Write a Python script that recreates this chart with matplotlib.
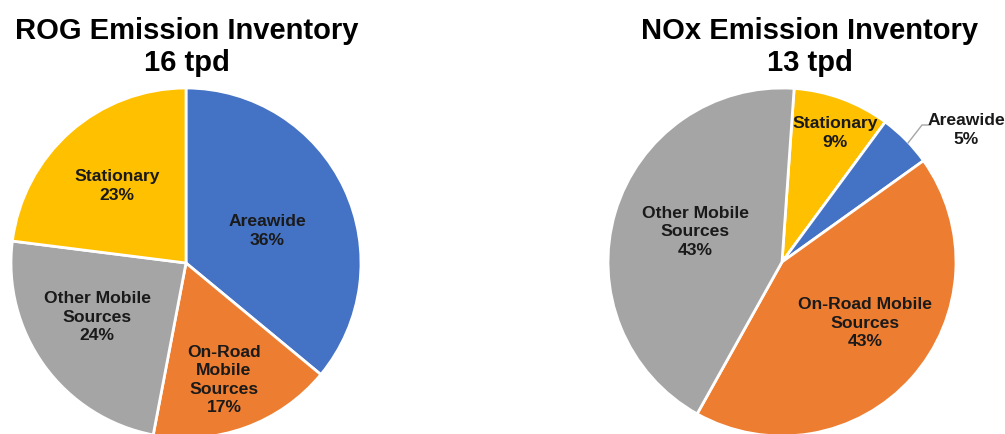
import matplotlib
matplotlib.use("Agg")
import matplotlib.pyplot as plt

plt.rcParams['font.family'] = ['Liberation Sans', 'DejaVu Sans']

# ---- data ----
rog_labels = ["Areawide", "On-Road\nMobile\nSources", "Other Mobile\nSources", "Stationary"]
rog_values = [36, 17, 24, 23]
rog_colors = ["#4472C4", "#ED7D31", "#A5A5A5", "#FFC000"]
rog_title = "ROG Emission Inventory\n16 tpd"

nox_labels = ["Stationary", "Areawide", "On-Road Mobile\nSources", "Other Mobile\nSources"]
nox_values = [9, 5, 43, 43]
nox_colors = ["#FFC000", "#4472C4", "#ED7D31", "#A5A5A5"]
nox_title = "NOx Emission Inventory\n13 tpd"

W, H = 1005, 434
fig = plt.figure(figsize=(W / 100, H / 100), dpi=100)
ax = fig.add_axes([0, 0, 1, 1])

def Y(y):
    return H - y

# left pie
ax.pie(rog_values, colors=rog_colors, startangle=90, counterclock=False,
       center=(186, Y(263)), radius=175,
       wedgeprops=dict(edgecolor="white", linewidth=2))
# right pie
ax.pie(nox_values, colors=nox_colors, startangle=86, counterclock=False,
       center=(782, Y(262)), radius=174,
       wedgeprops=dict(edgecolor="white", linewidth=2))

ax.set_xlim(0, W)
ax.set_ylim(0, H)
ax.set_aspect('auto')
ax.axis('off')

lab_kw = dict(ha="center", va="center", fontsize=12.6, fontweight="bold",
              color="#1a1a1a", linespacing=1.3)
rog_pos = [(267, 231), (224, 380), (97, 317), (117, 186)]
for t, v, (x, y) in zip(rog_labels, rog_values, rog_pos):
    ax.text(x, Y(y), f"{t}\n{v}%", **lab_kw)

nox_pos = [(835, 133), (966, 130), (865, 323), (695, 232)]
for t, v, (x, y) in zip(nox_labels, nox_values, nox_pos):
    ax.text(x, Y(y), f"{t}\n{v}%", **lab_kw)

# leader line for Areawide (NOx)
ax.plot([908, 922, 930], [Y(143), Y(125), Y(125)], color="#A5A5A5", lw=1)

title_kw = dict(ha="center", va="center", fontsize=21, fontweight="bold",
                color="black", linespacing=1.18)
ax.text(187, Y(47), rog_title, **title_kw)
ax.text(810, Y(47), nox_title, **title_kw)

fig.savefig("out.png", dpi=100)
